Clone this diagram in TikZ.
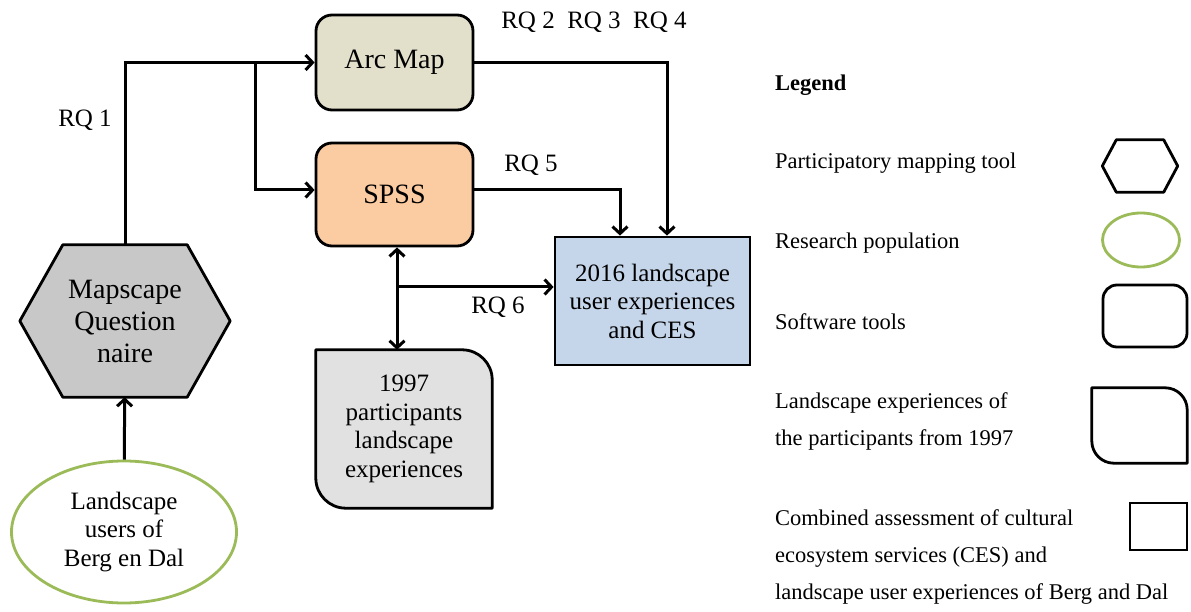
\documentclass[tikz,border=0pt]{standalone}
\usepackage{fontspec}
\setmainfont{Liberation Serif}
\usepackage{xcolor}
\usetikzlibrary{positioning, calc, arrows.meta, shapes.geometric, backgrounds}
\definecolor{ArcBeige}{RGB}{226,223,203}
\definecolor{SpssPeach}{RGB}{251,203,161}
\definecolor{CesBlue}{RGB}{197,214,234}
\definecolor{OldGrey}{RGB}{225,225,225}
\definecolor{HexGrey}{RGB}{200,200,200}
\definecolor{PopGreen}{RGB}{155,187,89}
\tikzset{
    softbox/.style={
        draw, line width=2.8pt, rounded corners=16pt, inner sep=0pt, align=center
    },
    plainbox/.style={
        draw, line width=2.8pt, inner sep=0pt, align=center
    },
    ghost/.style={
        inner sep=0pt, align=center
    },
    ptr/.style={
        -{Straight Barb[length=7pt,width=15pt]}, line width=3pt
    },
    dblptr/.style={
        {Straight Barb[length=7pt,width=15pt]}-{Straight Barb[length=7pt,width=15pt]}, line width=3pt
    },
    bigtext/.style={font=\fontsize{28}{32}\selectfont},
    midtext/.style={font=\fontsize{25}{28.5}\selectfont},
    legtext/.style={font=\fontsize{22.5}{37}\selectfont, anchor=west, align=left, inner sep=0pt}
}
% hexagon drawn behind a node (node, inset, fill)
\newcommand{\drawhex}[3]{
    \begin{pgfonlayer}{background}
    \draw[line width=2.8pt, line join=round, fill=#3] (#1.west) -- ($(#1.north west)+(#2,0)$)
        -- ($(#1.north east)+(-#2,0)$) -- (#1.east) -- ($(#1.south east)+(-#2,0)$)
        -- ($(#1.south west)+(#2,0)$) -- cycle;
    \end{pgfonlayer}
}
% box with round top-right and bottom-left corners (node, radius, fill)
\newcommand{\drawcut}[3]{
    \begin{pgfonlayer}{background}
    \draw[line width=2.8pt, line join=round, fill=#3] (#1.north west) -- ($(#1.north east)+(-#2,0)$)
        .. controls ($(#1.north east)+(-0.45*#2,0)$) and ($(#1.north east)+(0,0.45*#2)$) .. ($(#1.north east)+(0,#2)$)
        -- (#1.south east) -- ($(#1.south west)+(#2,0)$)
        .. controls ($(#1.south west)+(0.45*#2,0)$) and ($(#1.south west)+(0,-0.45*#2)$) .. ($(#1.south west)+(0,-#2)$)
        -- cycle;
    \end{pgfonlayer}
}

\begin{document}
\begin{tikzpicture}[x=1pt, y=-1pt]
    \useasboundingbox (0,0) rectangle (1191,612);

    % --- main nodes ---
    \node[softbox, bigtext, fill=ArcBeige, minimum width=157pt, minimum height=95pt] (arcmap) at (394.5,62.5) {Arc Map};
    \node[softbox, bigtext, fill=SpssPeach, minimum width=157pt, minimum height=103pt] (spss) at (394.5,194.5) {SPSS};
    \node[plainbox, midtext, fill=CesBlue, minimum width=195pt, minimum height=128pt] (ces) at (652.5,301) {2016 landscape\\user experiences\\and CES};
    \node[ghost, midtext, minimum width=176pt, minimum height=158pt] (p97) at (404,429) {1997\\participants\\landscape\\experiences};
    \node[ghost, bigtext, minimum width=210pt, minimum height=152pt] (quest) at (125,321) {Mapscape\\Question\\naire};
    \node[ellipse, draw=PopGreen, line width=2.8pt, inner sep=0pt, align=center, midtext, minimum width=225pt, minimum height=142pt] (users) at (124,532) {Landscape\\users of\\Berg en Dal};

    \drawhex{quest}{43}{HexGrey}
    \drawcut{p97}{30}{OldGrey}

    % --- connectors ---
    \coordinate (split) at (255,62.5);
    \coordinate (fork) at (397,287);
    \draw[ptr] (users) -- (quest);
    \draw[ptr] (quest.north) |- (arcmap.west);
    \draw[ptr] (split) |- ([yshift=4.5pt]spss.west);
    \draw[ptr] (arcmap.east) -| ([xshift=14.5pt]ces.north);
    \draw[ptr] ([yshift=4.5pt]spss.east) -| ([xshift=-32.5pt]ces.north);
    \draw[dblptr] ([xshift=2.5pt]spss.south) -- ([xshift=2.5pt]spss.south |- p97.north);
    \draw[ptr] (fork) -- (fork -| ces.west);

    % --- labels ---
    \node[midtext] (rq1) at (85,120) {RQ 1};
    \node[midtext] (rq234) at (594,22) {RQ 2\enspace RQ 3\enspace RQ 4};
    \node[midtext] (rq5) at (531,165) {RQ 5};
    \node[midtext] (rq6) at (498,307) {RQ 6};

    % --- legend ---
    \node[legtext] (legtitle) at (775,85) {\textbf{Legend}};
    \node[legtext] (legt1) at (775,163) {Participatory mapping tool};
    \node[legtext] (legt2) at (775,243) {Research population};
    \node[legtext] (legt3) at (775,322) {Software tools};
    \node[legtext] (legt4) at (775,421.5) {Landscape experiences of\\the participants from 1997};
    \node[legtext] (legt5) at (775,557) {Combined assessment of cultural\\ecosystem services (CES) and\\landscape user experiences of Berg and Dal};

    \node[ghost, minimum width=75pt, minimum height=52pt] (leghex) at (1140,166) {};
    \node[ellipse, draw=PopGreen, line width=2.8pt, inner sep=0pt, minimum width=77pt, minimum height=54pt] (legell) at (1141,240) {};
    \node[softbox, rounded corners=14pt, minimum width=84pt, minimum height=62pt] (legsoft) at (1145,316) {};
    \node[ghost, minimum width=95pt, minimum height=75pt] (legcut) at (1139.5,425.5) {};
    \node[plainbox, minimum width=57pt, minimum height=47pt] (legrect) at (1158.5,526.5) {};
    \drawhex{leghex}{14}{white}
    \drawcut{legcut}{22}{white}
\end{tikzpicture}
\end{document}
